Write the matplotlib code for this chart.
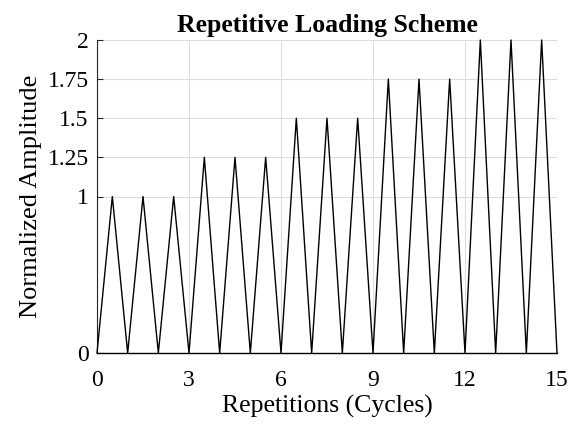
import matplotlib.pyplot as plt
import numpy as np

# Peak amplitude of each repetition (cycle)
amplitudes = [1, 1, 1, 1.25, 1.25, 1.25, 1.5, 1.5, 1.5, 1.75, 1.75, 1.75, 2, 2, 2]
x_ticks = [0, 3, 6, 9, 12, 15]
y_ticks = [0, 1, 1.25, 1.5, 1.75, 2]
y_ticklabels = ["0", "1", "1.25", "1.5", "1.75", "2"]

plt.rcParams["font.family"] = ["Liberation Serif", "DejaVu Serif"]

# Triangle wave: zero at each integer, peak at the half cycle
t = [0.0]
y = [0.0]
for i, a in enumerate(amplitudes):
    t += [i + 0.5, i + 1.0]
    y += [a, 0.0]

fig = plt.figure(figsize=(5.75, 4.25), dpi=100)
ax = fig.add_axes([97 / 575, 1 - 353 / 425, 460 / 575, 313 / 425])

ax.plot(t, y, color="black", linewidth=1.0, clip_on=False, zorder=3)

ax.set_xlim(0, 15)
ax.set_ylim(0, 2)
ax.set_xticks(x_ticks)
ax.set_yticks(y_ticks)
ax.set_yticklabels(y_ticklabels)
ax.grid(True, color="#dcdcdc", linewidth=0.8)
ax.set_axisbelow(True)

for side in ["top", "right"]:
    ax.spines[side].set_visible(False)
ax.spines["left"].set_color("#262626")
ax.spines["left"].set_linewidth(0.8)
ax.spines["bottom"].set_color("black")
ax.spines["bottom"].set_linewidth(1.0)

ax.tick_params(axis="y", direction="in", length=4, color="#262626",
               labelsize=17, pad=6)
ax.tick_params(axis="x", length=0, labelsize=17, pad=12)

ax.set_xlabel("Repetitions (Cycles)", fontsize=18.5, labelpad=3)
ax.set_ylabel("Normalized Amplitude", fontsize=19, labelpad=4)
ax.set_title("Repetitive Loading Scheme", fontsize=18.5, fontweight="bold", pad=6)

fig.savefig("out.png", dpi=100)
